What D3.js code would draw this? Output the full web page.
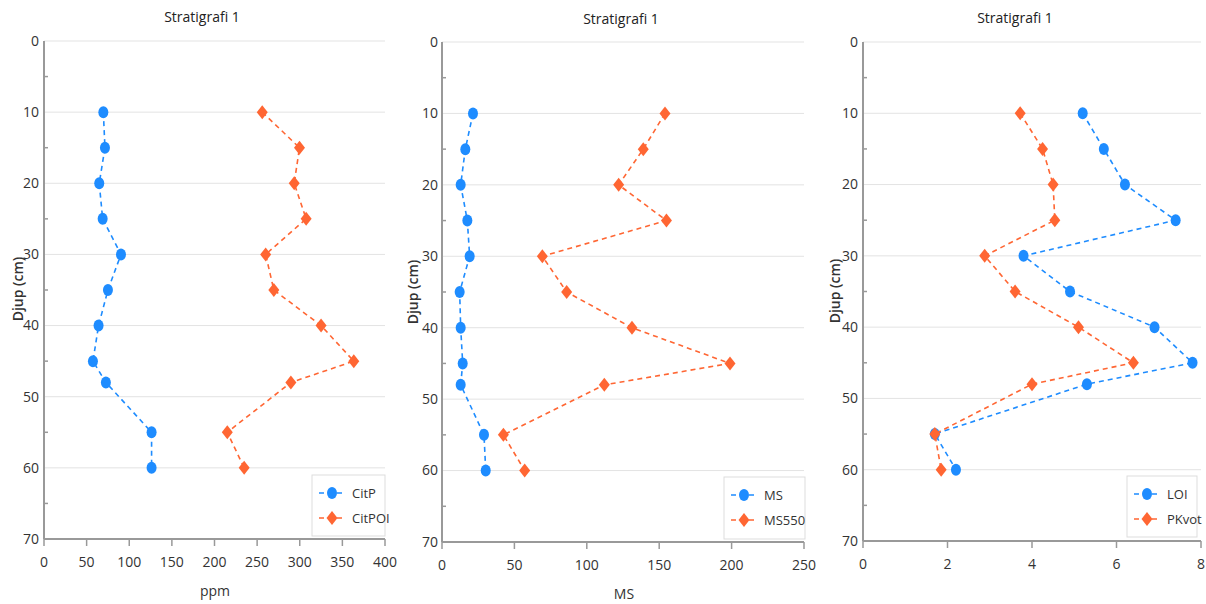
<!DOCTYPE html>
<html>
<head>
<meta charset="utf-8">
<script src="https://cdn.jsdelivr.net/npm/d3@7"></script>
<style>
  body { margin: 0; background: #fff; }
  svg { display: block; font-family: "Open Sans", sans-serif; }
  .grid line { stroke: #e3e3e3; stroke-width: 1; }
  .tick-label { fill: #333; font-size: 14px; }
</style>
</head>
<body>
<svg id="viz-container" width="1206" height="604"></svg>
<script>
// depth in cm (shared y values)
var depth = [10, 15, 20, 25, 30, 35, 40, 45, 48, 55, 60];

// panel 1 - ppm
var citP   = [69.6, 71.5, 64.8, 68.8, 90.3, 75, 64, 57.4, 72.6, 126.2, 126.2];
var citPOI = [256, 299.7, 293.5, 307.5, 260, 269.6, 325, 363.4, 289.6, 215, 234.8];

// panel 2 - MS
var ms    = [21.4, 16.1, 12.9, 17.5, 19.1, 12.2, 12.9, 14.3, 12.9, 29, 30.2];
var ms550 = [154, 139, 122, 155, 69.3, 86.1, 131.2, 198.9, 112.1, 42.4, 57.1];

// panel 3
var loi   = [5.2, 5.7, 6.2, 7.4, 3.8, 4.9, 6.9, 7.8, 5.3, 1.7, 2.2];
var pkvot = [3.72, 4.25, 4.5, 4.54, 2.88, 3.6, 5.1, 6.4, 4.0, 1.7, 1.85];

var xTicks1 = [0, 50, 100, 150, 200, 250, 300, 350, 400];
var xTicks2 = [0, 50, 100, 150, 200, 250];
var xTicks3 = [0, 2, 4, 6, 8];
var yMajor = [0, 10, 20, 30, 40, 50, 60, 70];
var yMinor = [5, 15, 25, 35, 45, 55, 65];

var blue = "#1e8cff", orange = "#ff6633";

var panels = [
  { left: 44, right: 385, top: 41, bottom: 539, xTicks: xTicks1, title: "Stratigrafi 1", titleX: 202, titleY: 22,
    xLabel: "ppm", xLabelX: 215, xLabelY: 596, yLabelX: 18, yLabelY: 289, labelGap: 5,
    series: [{ name: "CitP", values: citP, color: blue, shape: "circle" },
             { name: "CitPOI", values: citPOI, color: orange, shape: "diamond" }],
    legend: { x: 312, y: 475, w: 73, h: 61 } },
  { left: 442, right: 804, top: 42, bottom: 542, xTicks: xTicks2, title: "Stratigrafi 1", titleX: 621, titleY: 24,
    xLabel: "MS", xLabelX: 624, xLabelY: 599, yLabelX: 413, yLabelY: 292, labelGap: 4,
    series: [{ name: "MS", values: ms, color: blue, shape: "circle" },
             { name: "MS550", values: ms550, color: orange, shape: "diamond" }],
    legend: { x: 724, y: 477, w: 81, h: 62 } },
  { left: 863, right: 1201, top: 42, bottom: 541, xTicks: xTicks3, title: "Stratigrafi 1", titleX: 1015, titleY: 23,
    xLabel: "", yLabelX: 835, yLabelY: 291, labelGap: 5,
    series: [{ name: "LOI", values: loi, color: blue, shape: "circle" },
             { name: "PKvot", values: pkvot, color: orange, shape: "diamond" }],
    legend: { x: 1127, y: 476, w: 70, h: 61 } }
];

var svg = d3.select("#viz-container");

function drawMarker(g, shape, color) {
  if (shape === "circle") {
    g.append("ellipse").attr("rx", 5).attr("ry", 6).style("fill", color);
  } else {
    g.append("path").attr("d", "M0,-7L5.5,0L0,7L-5.5,0Z").style("fill", color);
  }
}

panels.forEach(function(p) {
  var xMax = p.xTicks[p.xTicks.length - 1];
  var x = d3.scaleLinear().domain([0, xMax]).range([p.left, p.right]);
  var y = d3.scaleLinear().domain([0, 70]).range([p.top, p.bottom]);
  var g = svg.append("g");

  // horizontal gridlines
  g.append("g").attr("class", "grid")
    .selectAll("line").data(yMajor.slice(0, -1))
   .enter().append("line")
    .attr("x1", p.left).attr("x2", p.right)
    .attr("y1", d => y(d)).attr("y2", d => y(d));

  // minor ticks inside the plot
  g.append("g").selectAll("line").data(yMinor)
   .enter().append("line")
    .attr("x1", p.left).attr("x2", p.left + 4)
    .attr("y1", d => y(d)).attr("y2", d => y(d))
    .style("stroke", "#999").style("stroke-width", 1.5);

  // x ticks below
  g.append("g").selectAll("line").data(p.xTicks)
   .enter().append("line")
    .attr("x1", d => x(d)).attr("x2", d => x(d))
    .attr("y1", p.bottom).attr("y2", p.bottom + 7)
    .style("stroke", "#999").style("stroke-width", 1.5);

  // axis lines
  g.append("line").attr("x1", p.left).attr("x2", p.left).attr("y1", p.top).attr("y2", p.bottom)
    .style("stroke", "#999").style("stroke-width", 2);
  g.append("line").attr("x1", p.left).attr("x2", p.right).attr("y1", p.bottom).attr("y2", p.bottom)
    .style("stroke", "#999").style("stroke-width", 2);

  // y tick labels
  g.append("g").selectAll("text").data(yMajor)
   .enter().append("text").attr("class", "tick-label")
    .attr("x", p.left - p.labelGap).attr("y", d => y(d))
    .attr("dy", "0.35em").attr("text-anchor", "end")
    .text(d => d);

  // x tick labels
  g.append("g").selectAll("text").data(p.xTicks)
   .enter().append("text").attr("class", "tick-label")
    .attr("x", d => x(d)).attr("y", p.bottom + 28)
    .attr("text-anchor", "middle")
    .text(d => d);

  // title & axis labels
  g.append("text").attr("x", p.titleX).attr("y", p.titleY)
    .attr("text-anchor", "middle").style("font-size", "14px").style("fill", "#222")
    .text(p.title);
  if (p.xLabel) {
    g.append("text").attr("x", p.xLabelX).attr("y", p.xLabelY)
      .attr("text-anchor", "middle").style("font-size", "14px").style("fill", "#333")
      .text(p.xLabel);
  }
  g.append("text")
    .attr("transform", "translate(" + p.yLabelX + "," + p.yLabelY + ") rotate(-90)")
    .attr("dy", "0.35em").attr("text-anchor", "middle")
    .style("font-size", "14px").style("font-weight", "600").style("fill", "#333")
    .text("Djup (cm)");

  // series
  p.series.forEach(function(s) {
    var pts = depth.map((d, i) => [s.values[i], d]);
    var line = d3.line().x(d => x(d[0])).y(d => y(d[1]));
    g.append("path").datum(pts)
      .attr("d", line)
      .style("fill", "none").style("stroke", s.color)
      .style("stroke-width", 1.6).style("stroke-dasharray", "5,4");
    pts.forEach(function(d) {
      var m = g.append("g").attr("transform", "translate(" + x(d[0]) + "," + y(d[1]) + ")");
      drawMarker(m, s.shape, s.color);
    });
  });

  // legend
  var L = p.legend;
  var lg = g.append("g").attr("transform", "translate(" + L.x + "," + L.y + ")");
  lg.append("rect").attr("width", L.w).attr("height", L.h)
    .style("fill", "#fff").style("stroke", "#ddd");
  p.series.forEach(function(s, i) {
    var yy = 18 + i * 25;
    lg.append("line").attr("x1", 7).attr("x2", 33).attr("y1", yy).attr("y2", yy)
      .style("stroke", s.color).style("stroke-width", 1.6).style("stroke-dasharray", "5,4");
    var m = lg.append("g").attr("transform", "translate(20," + yy + ")");
    drawMarker(m, s.shape, s.color);
    lg.append("text").attr("x", 40).attr("y", yy).attr("dy", "0.35em")
      .style("font-size", "13px").style("fill", "#333").text(s.name);
  });
});
</script>
</body>
</html>
